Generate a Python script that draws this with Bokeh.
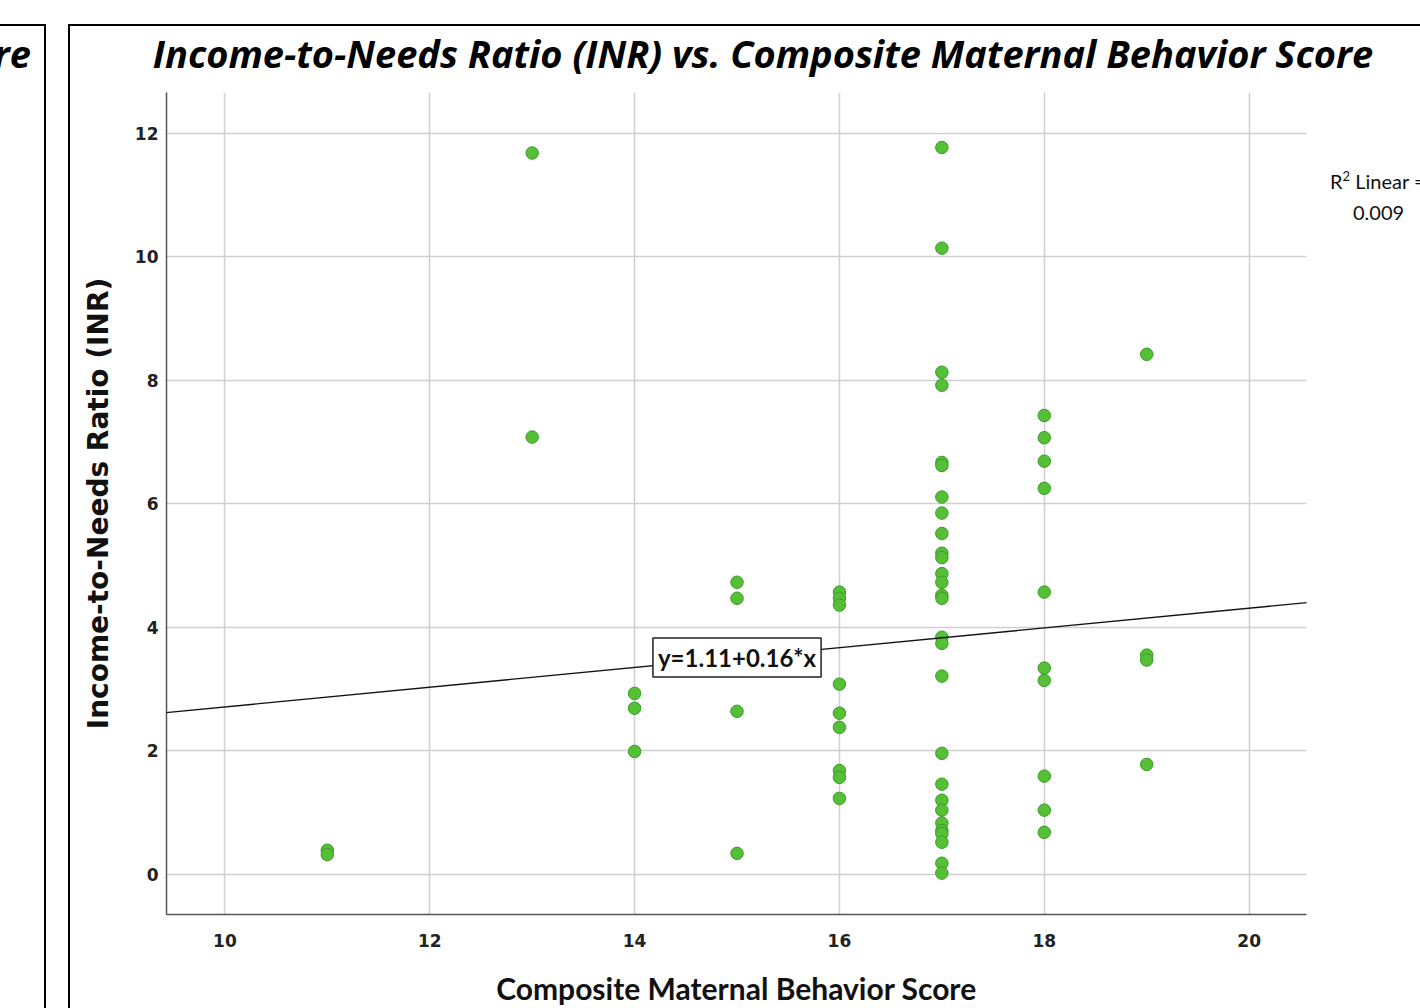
from bokeh.plotting import figure
from bokeh.models import Label, Slope, FixedTicker, Range1d, Div, Spacer
from bokeh.layouts import row, column
from bokeh.embed import file_html
from bokeh.resources import INLINE

# ---- data ----
score = ([11, 11] + [13, 13] + [14, 14, 14] + [15, 15, 15, 15] + [16] * 9 + [17] * 28
         + [18] * 10 + [19] * 4)
inr = ([0.39, 0.32]
       + [11.68, 7.08]
       + [2.93, 2.69, 1.99]
       + [4.73, 4.47, 2.64, 0.34]
       + [4.57, 4.47, 4.36, 3.08, 2.61, 2.38, 1.68, 1.57, 1.23]
       + [11.77, 10.14, 8.13, 7.92, 6.67, 6.62, 6.11, 5.85, 5.52, 5.20, 5.13, 4.87, 4.73,
          4.52, 4.47, 3.84, 3.74, 3.21, 1.96, 1.46, 1.20, 1.04, 0.83, 0.71, 0.66, 0.52,
          0.18, 0.02]
       + [7.43, 7.07, 6.69, 6.25, 4.57, 3.34, 3.14, 1.59, 1.04, 0.68]
       + [8.42, 3.55, 3.47, 1.78])
x_ticks = [10, 12, 14, 16, 18, 20]
y_ticks = [0, 2, 4, 6, 8, 10, 12]
intercept = 1.11
slope = 0.16
r2_linear = 0.009
title_text = "Income-to-Needs Ratio (INR) vs. Composite Maternal Behavior Score"
x_title = "Composite Maternal Behavior Score"
y_title = "Income-to-Needs Ratio (INR)"
prev_title_tail = "Score"

# ---- layout sizes ----
TOP_GAP = 24
LEFT_W, GAP_W = 46, 22
MAIN_W = 1352
TITLE_H = 68
BODY_H = 916
FIG_W, RIGHT_W = 1246, 104

p = figure(width=FIG_W, height=BODY_H, output_backend="svg", toolbar_location=None,
           x_range=Range1d(9.43, 20.56), y_range=Range1d(-0.65, 12.66),
           min_border_left=96, min_border_right=10, min_border_top=0,
           min_border_bottom=94)
p.outline_line_color = None
p.background_fill_color = "white"
p.border_fill_color = "white"

for ax in (p.xaxis[0], p.yaxis[0]):
    ax.major_tick_line_color = None
    ax.minor_tick_line_color = None
    ax.axis_line_color = "#555555"
    ax.axis_line_width = 1.5
    ax.major_label_text_font = "DejaVu Sans"
    ax.major_label_text_font_style = "bold"
    ax.major_label_text_font_size = "17px"
    ax.major_label_text_color = "#222222"

p.xaxis.ticker = FixedTicker(ticks=x_ticks)
p.yaxis.ticker = FixedTicker(ticks=y_ticks)
p.xaxis.major_label_standoff = 13
p.yaxis.major_label_standoff = 2

p.xaxis.axis_label = x_title
p.xaxis.axis_label_text_font = "Lato"
p.xaxis.axis_label_text_font_style = "bold"
p.xaxis.axis_label_text_font_size = "30px"
p.xaxis.axis_label_text_color = "#111111"
p.xaxis.axis_label_standoff = 20

p.yaxis.axis_label = y_title
p.yaxis.axis_label_text_font = "DejaVu Sans"
p.yaxis.axis_label_text_font_style = "bold"
p.yaxis.axis_label_text_font_size = "28px"
p.yaxis.axis_label_text_color = "#111111"
p.yaxis.axis_label_standoff = 17

p.xgrid.grid_line_color = "#cfcfcf"
p.xgrid.grid_line_width = 1.5
p.ygrid.grid_line_color = "#cfcfcf"
p.ygrid.grid_line_width = 1.5

p.scatter(score, inr, size=12.5, fill_color="#55bf35", line_color="#3b9a2a", line_width=1)

p.add_layout(Slope(gradient=slope, y_intercept=intercept, line_color="#111111",
                   line_width=1.3))

eq_x = 15
p.add_layout(Label(x=eq_x, y=intercept + slope * eq_x,
                   text=f"y={intercept:.2f}+{slope:.2f}*x",
                   text_align="center", text_baseline="middle",
                   text_font="Lato", text_font_style="bold", text_font_size="24px",
                   text_color="#111111", background_fill_color="white",
                   border_line_color="#222222", border_line_width=1.5, padding=5))

# ---- HTML pieces around the chart (panel frames, title, R² note) ----
left_div = Div(width=LEFT_W, height=TITLE_H + BODY_H, margin=0, text=(
    f'<div style="position:relative;width:{LEFT_W}px;height:{TITLE_H + BODY_H}px;'
    'box-sizing:border-box;border-top:2px solid #000;border-right:2px solid #000;'
    'overflow:hidden;">'
    '<span style="position:absolute;right:13px;top:8px;white-space:nowrap;'
    'font-family:\'Open Sans\';font-weight:700;font-style:italic;font-size:38px;'
    f'line-height:38px;color:#000;">{prev_title_tail}</span></div>'))

title_div = Div(width=MAIN_W, height=TITLE_H, margin=0, text=(
    f'<div style="position:relative;width:{MAIN_W}px;height:{TITLE_H}px;'
    'box-sizing:border-box;border-top:2px solid #000;border-left:2px solid #000;">'
    '<span style="position:absolute;left:693px;top:8px;transform:translateX(-50%);'
    'white-space:nowrap;font-family:\'Open Sans\';font-weight:700;font-style:italic;'
    f'font-size:38px;line-height:38px;color:#000;">{title_text}</span></div>'))

vline_div = Div(width=2, height=BODY_H, margin=0, text=(
    f'<div style="width:2px;height:{BODY_H}px;background:#000;"></div>'))

right_div = Div(width=RIGHT_W, height=BODY_H, margin=0, text=(
    f'<div style="position:relative;width:{RIGHT_W}px;height:{BODY_H}px;'
    'overflow:hidden;font-family:Lato;font-size:20px;line-height:24px;color:#111;">'
    '<span style="position:absolute;left:14px;top:77px;white-space:nowrap;">'
    'R<sup style="font-size:13px;line-height:0;">2</sup> Linear =</span>'
    '<span style="position:absolute;left:37px;top:108px;white-space:nowrap;">'
    f'{r2_linear:.3f}</span></div>'))

layout = column(
    Spacer(height=TOP_GAP, width=LEFT_W + GAP_W + MAIN_W, margin=0),
    row(left_div, Spacer(width=GAP_W, height=10, margin=0),
        column(title_div, row(vline_div, p, right_div, spacing=0), spacing=0),
        spacing=0),
    spacing=0)

open("out.html", "w").write(file_html(layout, INLINE))
